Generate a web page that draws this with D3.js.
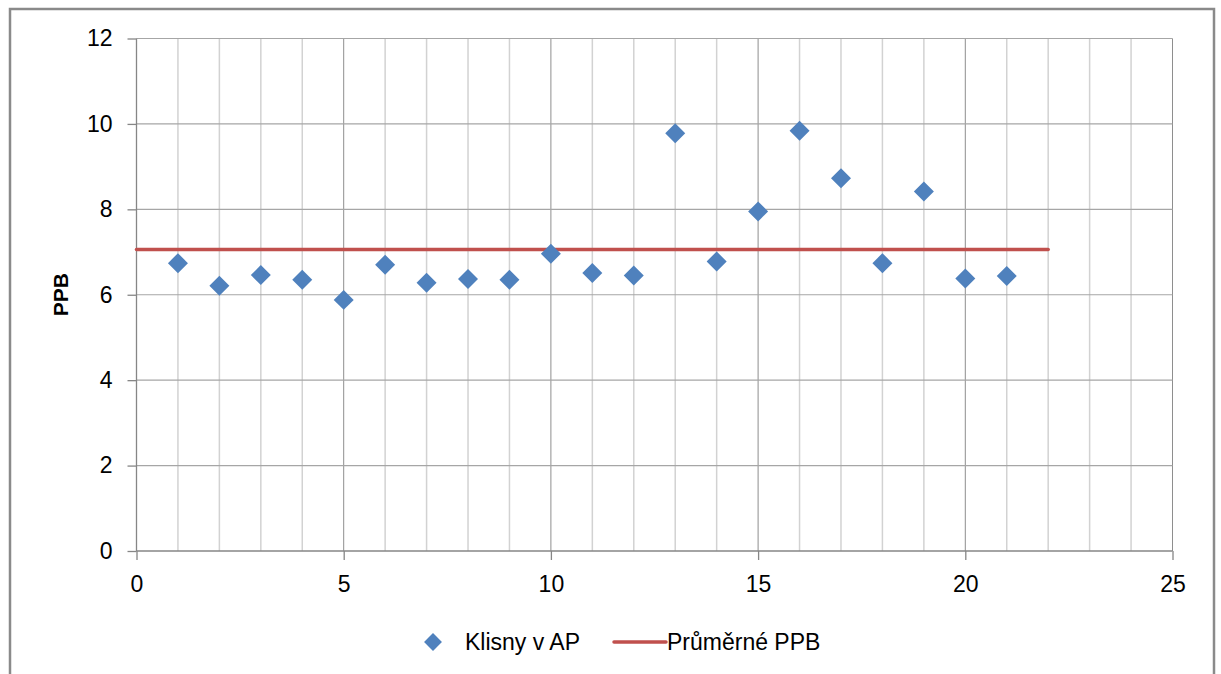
<!DOCTYPE html>
<html>
<head>
<meta charset="utf-8">
<script src="https://cdn.jsdelivr.net/npm/d3@7"></script>
<style>
  html, body { margin: 0; padding: 0; background: #fff; }
  svg { display: block; }
  text { font-family: "Liberation Sans", Arial, sans-serif; fill: #000; }
</style>
</head>
<body>
<svg id="chart" width="1221" height="674"></svg>
<script>
// Mare index values (Klisny v AP)
const ids = [1, 2, 3, 4, 5, 6, 7, 8, 9, 10, 11, 12, 13, 14, 15, 16, 17, 18, 19, 20, 21];
const ppb = [6.74, 6.21, 6.46, 6.35, 5.88, 6.70, 6.28, 6.37, 6.35, 6.96, 6.51, 6.45, 9.78, 6.78, 7.95, 9.84, 8.73, 6.74, 8.42, 6.38, 6.44];
// Average PPB line
const meanX = [0, 22];
const meanValue = 7.06;
const xTicks = [0, 5, 10, 15, 20, 25];
const yTicks = [0, 2, 4, 6, 8, 10, 12];
const seriesNames = ["Klisny v AP", "Průměrné PPB"];

const svg = d3.select("#chart");
const plot = { left: 136.5, right: 1172.5, top: 38.5, bottom: 551 };

// outer chart frame
svg.append("rect")
  .attr("x", 10).attr("y", 9)
  .attr("width", 1204).attr("height", 700)
  .attr("fill", "#fff")
  .attr("stroke", "#8a8a8a").attr("stroke-width", 2.5);

const x = d3.scaleLinear().domain([0, 25]).range([plot.left, plot.right]);
const y = d3.scaleLinear().domain([0, 12]).range([plot.bottom, plot.top]);

const g = svg.append("g");

// minor vertical gridlines
g.selectAll("line.vminor")
  .data(d3.range(1, 25).filter(v => v % 5 !== 0))
  .join("line")
  .attr("x1", d => x(d)).attr("x2", d => x(d))
  .attr("y1", plot.top).attr("y2", plot.bottom)
  .attr("stroke", "#d2d2d2").attr("stroke-width", 1.5);

// major vertical gridlines
g.selectAll("line.vmajor")
  .data(xTicks.slice(1))
  .join("line")
  .attr("x1", d => x(d)).attr("x2", d => x(d))
  .attr("y1", plot.top).attr("y2", plot.bottom)
  .attr("stroke", "#8e8e8e").attr("stroke-width", 1);

// horizontal gridlines
g.selectAll("line.hgrid")
  .data(yTicks.slice(1))
  .join("line")
  .attr("x1", plot.left).attr("x2", plot.right)
  .attr("y1", d => y(d)).attr("y2", d => y(d))
  .attr("stroke", "#a6a6a6").attr("stroke-width", 1.2);

// axes
const yAxis = d3.axisLeft(y).tickValues(yTicks).tickSize(9).tickPadding(15);
const xAxis = d3.axisBottom(x).tickValues(xTicks).tickSize(9).tickPadding(16);

const ya = svg.append("g").attr("transform", `translate(${plot.left},0)`).call(yAxis);
const xa = svg.append("g").attr("transform", `translate(0,${plot.bottom})`).call(xAxis);
[ya, xa].forEach(a => {
  a.select(".domain").attr("stroke", "#868686").attr("stroke-width", 1.3);
  a.selectAll(".tick line").attr("stroke", "#868686").attr("stroke-width", 1.3);
  a.selectAll(".tick text")
    .style("font-family", "'Liberation Sans', Arial, sans-serif")
    .style("font-size", "23px").attr("fill", "#111");
});
// keep domain without outer tick stubs
ya.select(".domain").attr("d", `M0,${plot.top}V${plot.bottom}`);
xa.select(".domain").attr("d", `M${plot.left},0H${plot.right}`);

// axis title
svg.append("text")
  .attr("transform", `translate(68,${(plot.top + plot.bottom) / 2}) rotate(-90)`)
  .attr("text-anchor", "middle")
  .style("font-size", "21px").style("font-weight", "bold")
  .text("PPB");

// average line
svg.append("line")
  .attr("x1", x(meanX[0])).attr("x2", x(meanX[1]))
  .attr("y1", y(meanValue)).attr("y2", y(meanValue))
  .attr("stroke", "#c0504d").attr("stroke-width", 3.5)
  .attr("stroke-linecap", "round");

// data points
const diamond = d3.symbol().type(d3.symbolSquare).size(200);
svg.selectAll("path.pt")
  .data(ids.map((id, i) => ({ id, v: ppb[i] })))
  .join("path")
  .attr("d", diamond)
  .attr("transform", d => `translate(${x(d.id)},${y(d.v)}) rotate(45)`)
  .attr("fill", "#4f81bd");

// legend
const lg = svg.append("g");
lg.append("path")
  .attr("d", d3.symbol().type(d3.symbolSquare).size(160)())
  .attr("transform", "translate(433,642) rotate(45)")
  .attr("fill", "#4f81bd");
lg.append("text").attr("x", 465).attr("y", 650)
  .style("font-size", "23px").attr("fill", "#111").text(seriesNames[0]);
lg.append("line")
  .attr("x1", 614).attr("x2", 666).attr("y1", 642).attr("y2", 642)
  .attr("stroke", "#c0504d").attr("stroke-width", 3.5)
  .attr("stroke-linecap", "round");
lg.append("text").attr("x", 667).attr("y", 650)
  .style("font-size", "23px").attr("fill", "#111").text(seriesNames[1]);
</script>
</body>
</html>
